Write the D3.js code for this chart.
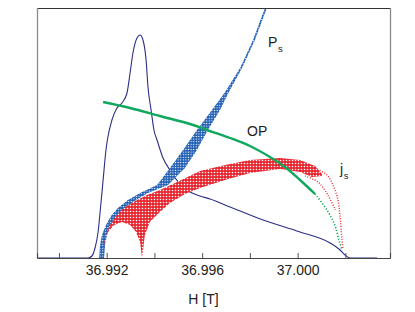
<!DOCTYPE html>
<html>
<head>
<meta charset="utf-8">
<script src="https://cdn.jsdelivr.net/npm/d3@7"></script>
<style>
  body { margin: 0; background: #fff; }
  svg { display: block; }
</style>
</head>
<body>
<div id="canvas"></div>
<script>
// field axis (T)
let majorTicks = [36.992, 36.996, 37.0];
let minorTicks = [36.99, 36.994, 36.998, 37.002];

// susceptibility-like peak (navy line), arbitrary units 0..100
let lineH = [36.98908, 36.99122, 36.99138, 36.99151, 36.99164, 36.99172, 36.99185, 36.99197, 36.99205, 36.99222,
  36.99243, 36.99264, 36.99285, 36.99298, 36.9931, 36.99327, 36.9934, 36.99352, 36.99365, 36.99373,
  36.99386, 36.99398, 36.99411, 36.99436, 36.99465, 36.99507, 36.99549, 36.99591, 36.99633, 36.99717,
  36.99855, 37.0001, 37.00136, 37.00178, 37.00199, 37.00219, 37.00333];
let lineV = [0, 0, 0.8, 4, 10.4, 18, 31.2, 43.2, 48.4, 55.2,
  60, 62, 66, 74, 82, 88, 89.2, 87.2, 79.2, 68.4,
  59.2, 51.2, 47.2, 40, 35.2, 29.6, 26.4, 24.8, 23.6, 20.4,
  15.2, 10.4, 6, 3.2, 1.2, 0, 0];

// order parameter OP
let opH = [36.99185, 36.99298, 36.99423, 36.99549, 36.9962, 36.99717, 36.998, 36.99884, 36.99947, 37.0001,
  37.00073, 37.00123, 37.00157, 37.00173, 37.00186];
let opV = [62.4, 60, 56.8, 53.6, 51.2, 48, 44.8, 40.4, 36.4, 31.2, 25.6, 19.2, 12.8, 7.2, 3.2];

// Ps band: left and right edges at the same levels
let psV = [0, 5.2, 9.2, 13.2, 16.8, 20, 23.2, 26, 29.2, 36, 43.2, 51.2, 59.2, 66.4, 76, 87.2, 100, 104.4];
let psLeftH = [36.99168, 36.99172, 36.9918, 36.99197, 36.99218, 36.99247, 36.99289, 36.9934, 36.99411, 36.99465,
  36.9952, 36.99578, 36.99641, 36.99696, 36.99759, 36.99813, 36.99863, 36.99884];
let psRightH = [36.99189, 36.99193, 36.99201, 36.99218, 36.99243, 36.99277, 36.99323, 36.99373, 36.99457, 36.99528,
  36.99578, 36.99624, 36.99675, 36.99712, 36.99767, 36.99821, 36.99871, 36.99888];

// js band
let jsUpperH = [36.99185, 36.99189, 36.99197, 36.99214, 36.99239, 36.99272, 36.99319, 36.99369, 36.99423, 36.99486,
  36.99591, 36.99696, 36.998, 36.99926, 37.0001, 37.00073, 37.00102];
let jsUpperV = [0, 5.2, 9.2, 13.2, 16.8, 20, 22.8, 25.2, 27.2, 30, 34.8, 37.2, 39.2, 40, 39.2, 36.8, 33.6];
let jsLowerH = [36.99348, 36.9936, 36.99381, 36.99423, 36.99465, 36.99528, 36.99591, 36.99696, 36.998, 36.99926,
  37.0001, 37.0006, 37.00102];
let jsLowerV = [0, 9.2, 14.4, 18.4, 22, 25.6, 28, 31.2, 34, 35.6, 34.4, 32.4, 32.8];
let jsArchH = [36.99185, 36.99189, 36.99205, 36.99231, 36.99264, 36.99298, 36.99323, 36.9934, 36.99348];
let jsArchV = [0, 6.4, 10.4, 13.2, 14.4, 13.2, 10.4, 6.4, 0];
let jsTailAH = [37.00073, 37.00123, 37.00148, 37.00169, 37.00178, 37.00186, 37.0019];
let jsTailAV = [36, 33.2, 29.2, 23.2, 16.4, 7.2, 4];
let jsTailBH = [37.00031, 37.00085, 37.00127, 37.00157];
let jsTailBV = [32.8, 30.4, 25.2, 19.2];

let colors = {
  line: "#2b2f86",
  ps: "#1f5db4",
  js: "#e8262f",
  op: "#10a85c",
};

let width = 415, height = 312;

let svg = d3
  .select("#canvas")
  .append("svg")
  .attr("width", width)
  .attr("height", height)
  .style("font-family", "'Liberation Sans', Arial, sans-serif");

let x = d3.scaleLinear().domain([36.98908, 37.00387]).range([37, 390]);
let y = d3.scaleLinear().domain([0, 100]).range([258, 8]);

let defs = svg.append("defs");

defs.append("clipPath").attr("id", "plot")
  .append("rect")
  .attr("x", x.range()[0]).attr("y", y.range()[1])
  .attr("width", x.range()[1] - x.range()[0])
  .attr("height", y.range()[0] - y.range()[1]);

let speckle = (id, color, size, hole) => {
  let p = defs.append("pattern")
    .attr("id", id)
    .attr("patternUnits", "userSpaceOnUse")
    .attr("width", size).attr("height", size);
  p.append("rect").attr("width", size).attr("height", size).attr("fill", color);
  p.append("circle").attr("cx", size / 2).attr("cy", size / 2).attr("r", hole).attr("fill", "#fff");
};
speckle("psFill", colors.ps, 2.6, 0.7);
speckle("jsFill", colors.js, 3, 0.8);

let path = (curve) => d3.line().x((d) => x(d[0])).y((d) => y(d[1])).curve(curve);

let g = svg.append("g").attr("clip-path", "url(#plot)");

// navy line
g.append("path")
  .datum(d3.zip(lineH, lineV))
  .attr("fill", "none")
  .attr("stroke", colors.line)
  .attr("stroke-width", 1.1)
  .attr("d", path(d3.curveMonotoneX));

// Ps band
let psPoly = d3.zip(psLeftH, psV).concat(d3.zip(psRightH, psV).reverse());
g.append("path")
  .datum(psPoly)
  .attr("fill", "url(#psFill)")
  .attr("d", path(d3.curveLinearClosed));

// js band: upper edge, lower edge back, then the arch under the fan
let jsPoly = d3.zip(jsUpperH, jsUpperV)
  .concat(d3.zip(jsLowerH, jsLowerV).reverse())
  .concat(d3.zip(jsArchH, jsArchV).reverse());
g.append("path")
  .datum(jsPoly)
  .attr("fill", "url(#jsFill)")
  .attr("d", path(d3.curveLinearClosed));

[[jsTailAH, jsTailAV], [jsTailBH, jsTailBV]].forEach(([h, v]) => {
  g.append("path")
    .datum(d3.zip(h, v))
    .attr("fill", "none")
    .attr("stroke", colors.js)
    .attr("stroke-width", 1.4)
    .attr("stroke-dasharray", "1 1.6")
    .attr("d", path(d3.curveCatmullRom));
});

// OP
let op = d3.zip(opH, opV);
g.append("path")
  .datum(op.slice(0, 11))
  .attr("fill", "none")
  .attr("stroke", colors.op)
  .attr("stroke-width", 2.4)
  .attr("d", path(d3.curveCatmullRom));
g.append("path")
  .datum(op.slice(10))
  .attr("fill", "none")
  .attr("stroke", colors.op)
  .attr("stroke-width", 1.6)
  .attr("stroke-dasharray", "1.2 1.8")
  .attr("d", path(d3.curveCatmullRom));

// frame
svg.append("line")
  .attr("x1", x.range()[0]).attr("x2", x.range()[1])
  .attr("y1", y.range()[1] + 0.5).attr("y2", y.range()[1] + 0.5)
  .attr("stroke", "#333");
[x.range()[0], x.range()[1]].forEach((px) => {
  svg.append("line")
    .attr("x1", px + 0.5).attr("x2", px + 0.5)
    .attr("y1", y.range()[1]).attr("y2", y.range()[0])
    .attr("stroke", "#8a8a8a")
    .attr("stroke-width", 1.3);
});

let xAxis = svg.append("g")
  .attr("transform", `translate(0,${y.range()[0]})`)
  .call(d3.axisBottom(x).tickValues(majorTicks).tickSize(-5).tickPadding(7).tickFormat(d3.format(".3f")));
xAxis.select(".domain").attr("stroke", "#444");
xAxis.selectAll(".tick line").attr("stroke", "#555");
xAxis.selectAll("text")
  .attr("font-size", 14)
  .attr("font-family", "'Liberation Sans', Arial, sans-serif")
  .attr("fill", "#222");

let minor = svg.append("g")
  .attr("transform", `translate(0,${y.range()[0]})`)
  .call(d3.axisBottom(x).tickValues(minorTicks).tickSize(-5).tickFormat(""));
minor.select(".domain").remove();
minor.selectAll(".tick line").attr("stroke", "#555");

svg.append("text")
  .attr("x", (x.range()[0] + x.range()[1]) / 2 - 10)
  .attr("y", 304)
  .attr("text-anchor", "middle")
  .attr("font-size", 14)
  .attr("fill", "#222")
  .text("H [T]");

// curve labels
let label = (h, v, main, sub) => {
  let t = svg.append("text")
    .attr("x", x(h)).attr("y", y(v))
    .attr("font-size", 14)
    .attr("fill", "#222")
    .text(main);
  if (sub) {
    t.append("tspan")
      .attr("font-size", 9.5)
      .attr("dy", 5)
      .attr("dx", 0.5)
      .text(sub);
  }
};
label(36.99876, 84.4, "P", "s");
label(36.99788, 48.8, "OP");
label(37.00178, 33.6, "j", "s");
</script>
</body>
</html>
